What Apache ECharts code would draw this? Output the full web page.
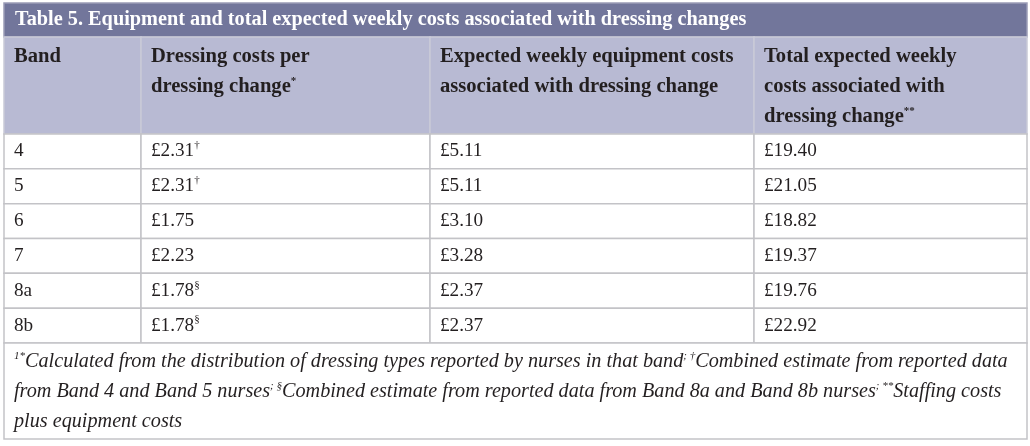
<!DOCTYPE html>
<html><head><meta charset="utf-8">
<script src="https://cdn.jsdelivr.net/npm/echarts@6/dist/echarts.min.js"></script>
<style>html,body{margin:0;padding:0;background:#fff}#c{width:1030px;height:446px}</style>
</head><body><div id="c"></div>
<script>
// ---- data ----
const tableTitle = 'Table 5. Equipment and total expected weekly costs associated with dressing changes';
const headerLines = [
  ['Band'],
  ['Dressing costs per', 'dressing change{s|*}'],
  ['Expected weekly equipment costs', 'associated with dressing change'],
  ['Total expected weekly', 'costs associated with', 'dressing change{s|**}']
];
const bands = ['4', '5', '6', '7', '8a', '8b'];
const dressingCost = [2.31, 2.31, 1.75, 2.23, 1.78, 1.78];
const dressingMark = ['†', '†', '', '', '§', '§'];
const equipWeekly = [5.11, 5.11, 3.10, 3.28, 2.37, 2.37];
const totalWeekly = [19.40, 21.05, 18.82, 19.37, 19.76, 22.92];
const footLines = [
  '{s|1*}Calculated from the distribution of dressing types reported by nurses in that band{s|; †}Combined estimate from reported data',
  'from Band 4 and Band 5 nurses{s|; §}Combined estimate from reported data from Band 8a and Band 8b nurses{s|; **}Staffing costs',
  'plus equipment costs'
];

// ---- layout ----
const W = 1030, H = 446;
const colEdges = [4, 141, 430, 754, 1027];
const titleTop = 3, headTop = 37, bodyTop = 134, rowH = 34.83;
const footTop = bodyTop + rowH * bands.length, footBottom = 439;
const SERIF = '"Liberation Serif", "DejaVu Serif", serif';
const TXT = '#231f20', GRID = '#c3c3c7';
const money = v => '£' + v.toFixed(2);

const cells = [];
cells.push({x0: colEdges[0], x1: colEdges[4], y0: titleTop, y1: headTop, fill: '#72769b', stroke: '#9a9cb6',
  text: tableTitle, bold: true, color: '#ffffff', size: 20.3, padX: 11, vmid: true});
headerLines.forEach((lines, i) => {
  cells.push({x0: colEdges[i], x1: colEdges[i + 1], y0: headTop, y1: bodyTop, fill: '#b8bad3', stroke: '#c9cad8',
    text: lines.join('\n'), bold: true, color: TXT, size: 20.6, padX: 10, padTop: 5, lh: 30});
});
bands.forEach((b, r) => {
  const vals = [b, money(dressingCost[r]) + (dressingMark[r] ? '{s|' + dressingMark[r] + '}' : ''),
    money(equipWeekly[r]), money(totalWeekly[r])];
  vals.forEach((t, i) => {
    cells.push({x0: colEdges[i], x1: colEdges[i + 1], y0: bodyTop + r * rowH, y1: bodyTop + (r + 1) * rowH,
      fill: '#ffffff', stroke: GRID, text: t, color: TXT, size: 19.2, padX: 10, vmid: true});
  });
});
cells.push({x0: colEdges[0], x1: colEdges[4], y0: footTop, y1: footBottom, fill: '#ffffff', stroke: GRID,
  text: footLines.join('\n'), italic: true, color: TXT, size: 20.2, padX: 10, padTop: 4, lh: 30});

function renderItem(params, api) {
  const c = cells[params.dataIndex];
  const p0 = api.coord([c.x0, c.y0]);
  const p1 = api.coord([c.x1, c.y1]);
  const lh = c.lh || 24;
  const sub = {fontSize: Math.round(c.size * 0.55), lineHeight: 10, padding: [0, 0, 12, 0],
    fontFamily: SERIF, fontStyle: c.italic ? 'italic' : 'normal', fontWeight: c.bold ? 'bold' : 'normal', fill: c.color};
  return {
    type: 'group',
    children: [
      {type: 'rect', shape: {x: p0[0], y: p0[1], width: p1[0] - p0[0], height: p1[1] - p0[1]},
        style: {fill: c.fill, stroke: c.stroke, lineWidth: 1.5}},
      {type: 'text', x: p0[0] + c.padX, y: c.vmid ? (p0[1] + p1[1]) / 2 : p0[1] + (c.padTop || 0),
        style: {text: c.text, fill: c.color, fontSize: c.size, fontFamily: SERIF,
          fontWeight: c.bold ? 'bold' : 'normal', fontStyle: c.italic ? 'italic' : 'normal',
          lineHeight: lh, align: 'left', verticalAlign: c.vmid ? 'middle' : 'top', rich: {s: sub}}}
    ]
  };
}

const chart = echarts.init(document.getElementById('c'), null, {renderer: 'canvas'});
chart.setOption({
  animation: false,
  grid: {left: 0, right: 0, top: 0, bottom: 0},
  xAxis: {type: 'value', min: 0, max: W, show: false},
  yAxis: {type: 'value', min: 0, max: H, inverse: true, show: false},
  series: [{type: 'custom', clip: false, renderItem: renderItem, silent: true,
    data: cells.map((c, i) => [i])}]
});
</script></body></html>
